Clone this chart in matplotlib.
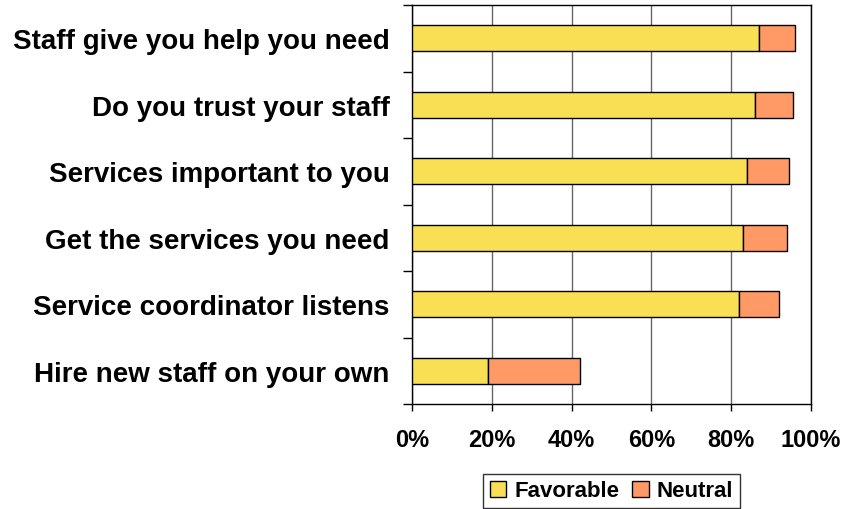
import numpy as np
import matplotlib.pyplot as plt
from matplotlib.ticker import FixedLocator, PercentFormatter

plt.rcParams['font.family'] = ['Liberation Sans', 'DejaVu Sans']

questions = ["Staff give you help you need",
             "Do you trust your staff",
             "Services important to you",
             "Get the services you need",
             "Service coordinator listens",
             "Hire new staff on your own"]
favorable = [87, 86, 84, 83, 82, 19]
neutral = [9, 9.5, 10.5, 11, 10, 23]

FAV_COLOR = '#F9DF53'
NEU_COLOR = '#FF9966'

fig = plt.figure(figsize=(8.53, 5.10), dpi=100)
ax = fig.add_axes([412/853, 1 - 405/510, 399/853, 399/510])

y = np.arange(len(questions))
ax.barh(y, favorable, height=0.39, color=FAV_COLOR, edgecolor='black',
        linewidth=1, label='Favorable', zorder=3)
ax.barh(y, neutral, left=favorable, height=0.39, color=NEU_COLOR,
        edgecolor='black', linewidth=1, label='Neutral', zorder=3)

ax.set_xlim(0, 100)
ax.set_ylim(len(questions) - 0.5, -0.5)
ax.xaxis.set_major_locator(FixedLocator([0, 20, 40, 60, 80, 100]))
ax.xaxis.set_major_formatter(PercentFormatter(decimals=0))
ax.set_yticks(y)
ax.set_yticklabels(questions)
# category separators as outward ticks on the left axis
ax.yaxis.set_minor_locator(FixedLocator(np.arange(-0.5, len(questions), 1)))

ax.tick_params(axis='y', which='major', length=0, pad=16, labelsize=20)
ax.tick_params(axis='y', which='minor', length=6.5, width=1, direction='out')
ax.tick_params(axis='x', length=5, width=1, direction='out', pad=12, labelsize=17)
for lbl in ax.get_xticklabels() + ax.get_yticklabels():
    lbl.set_fontweight('bold')

ax.grid(axis='x', color='#666666', linewidth=1, zorder=0)
for s in ax.spines.values():
    s.set_color('black')
    s.set_linewidth(1)

leg = ax.legend(loc='upper center', bbox_to_anchor=(0.5, -0.175), ncol=2,
                frameon=True, fancybox=False, edgecolor='black',
                prop={'weight': 'bold', 'size': 16}, handlelength=0.75,
                handleheight=0.75, handletextpad=0.35, columnspacing=0.6,
                borderpad=0.3, borderaxespad=0)
leg.get_frame().set_linewidth(1)

fig.savefig('out.png', dpi=100)
